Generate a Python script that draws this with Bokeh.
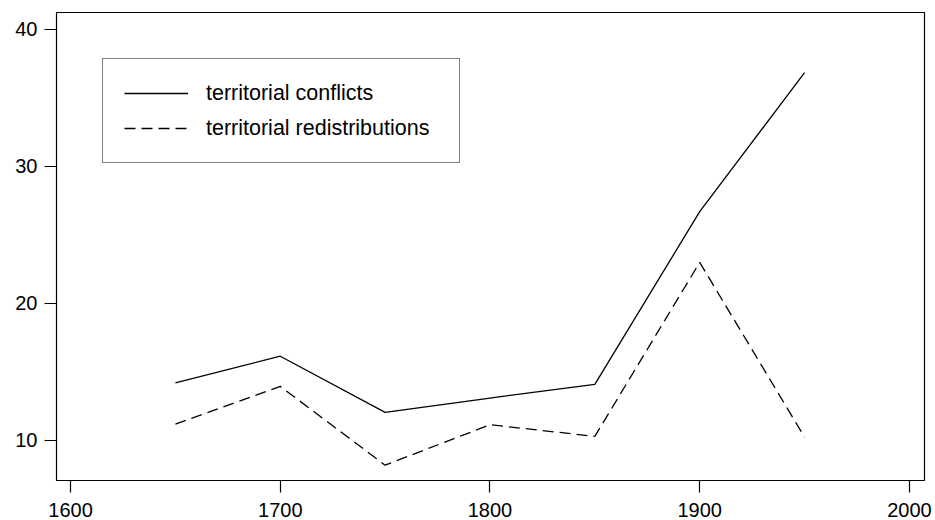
from bokeh.plotting import figure
from bokeh.models import Range1d, FixedTicker, Legend, LegendItem
from bokeh.embed import file_html
from bokeh.resources import INLINE

years = [1650, 1700, 1750, 1800, 1850, 1900, 1950]
territorial_conflicts = [14.2, 16.15, 12.05, 13.1, 14.1, 26.7, 36.85]
territorial_redistributions = [11.2, 13.95, 8.2, 11.15, 10.3, 23.0, 10.25]
x_ticks = [1600, 1700, 1800, 1900, 2000]
y_ticks = [10, 20, 30, 40]
series_labels = ["territorial conflicts", "territorial redistributions"]

FONT = "Liberation Sans"

p = figure(width=935, height=520, output_backend="svg", toolbar_location=None,
           x_range=Range1d(1593.3, 2007.2), y_range=Range1d(7.08, 41.24),
           min_border_left=56, min_border_right=11, min_border_top=12, min_border_bottom=40)

p.xgrid.visible = False
p.ygrid.visible = False
p.outline_line_color = "black"
p.outline_line_width = 1.2
p.background_fill_color = "white"
p.border_fill_color = "white"

for ax in (p.xaxis[0], p.yaxis[0]):
    ax.axis_line_color = None
    ax.major_tick_in = 0
    ax.major_tick_out = 12
    ax.minor_tick_line_color = None
    ax.major_tick_line_color = "black"
    ax.major_tick_line_width = 1.2
    ax.major_label_text_font = FONT
    ax.major_label_text_font_size = "20px"
    ax.major_label_text_color = "black"

p.xaxis.ticker = FixedTicker(ticks=x_ticks)
p.yaxis.ticker = FixedTicker(ticks=y_ticks)
p.xaxis.major_label_standoff = 10
p.yaxis.major_label_standoff = 7

r1 = p.line(years, territorial_conflicts, line_color="black", line_width=1.3)
r2 = p.line(years, territorial_redistributions, line_color="black", line_width=1.3,
            line_dash="11 6")

legend = Legend(items=[LegendItem(label=series_labels[0], renderers=[r1]),
                       LegendItem(label=series_labels[1], renderers=[r2])],
                location=(46, 317), padding=21, spacing=9,
                glyph_width=64, glyph_height=26, label_height=26,
                label_width=232, label_standoff=18, margin=0,
                label_text_font=FONT, label_text_font_size="21.5px",
                label_text_color="black",
                border_line_color="black", border_line_width=1.2,
                background_fill_color="white", background_fill_alpha=1)
p.add_layout(legend, "center")

open("out.html", "w").write(file_html(p, INLINE))
